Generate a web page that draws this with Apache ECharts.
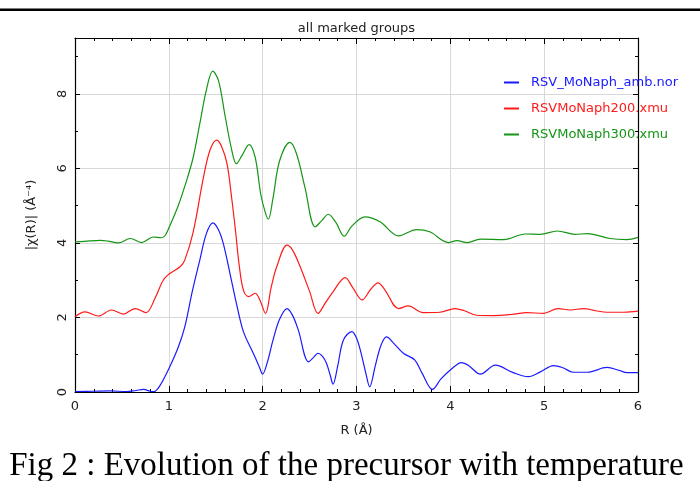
<!DOCTYPE html>
<html>
<head>
<meta charset="utf-8">
<script src="https://cdn.jsdelivr.net/npm/echarts@6/dist/echarts.min.js"></script>
<style>
html,body{margin:0;padding:0;background:#fff;}
#c{width:700px;height:481px;}
</style>
</head>
<body>
<div id="c"></div>
<script>
// ---- data ----
var seriesNames = ['RSV_MoNaph_amb.nor', 'RSVMoNaph200.xmu', 'RSVMoNaph300.xmu'];
var xTicks = [0, 1, 2, 3, 4, 5, 6];
var yTicks = [0, 2, 4, 6, 8];

var rBlue = [0,0.2,0.37,0.55,0.65,0.73,0.8,0.84,0.9,1.01,1.1,1.17,1.25,1.33,1.40,1.47,1.53,1.58,1.65,1.72,1.795,1.90,1.96,2.0,2.05,2.11,2.18,2.26,2.32,2.38,2.49,2.55,2.59,2.64,2.68,2.72,2.75,2.8,2.86,2.95,3.0,3.04,3.1,3.14,3.2,3.26,3.32,3.4,3.5,3.62,3.7,3.81,3.9,4.0,4.12,4.2,4.32,4.48,4.67,4.83,4.96,5.10,5.2,5.31,5.46,5.67,5.8,5.88,6.0];
var vBlue = [0.01,0.02,0.03,0.01,0.04,0.07,0.02,0.01,0.15,0.68,1.2,1.75,2.7,3.54,4.25,4.54,4.35,3.99,3.2,2.38,1.62,1.04,0.7,0.48,0.8,1.39,1.95,2.24,2.05,1.66,0.81,0.95,1.04,0.95,0.77,0.45,0.21,0.7,1.39,1.62,1.45,1.13,0.5,0.14,0.7,1.25,1.48,1.3,1.04,0.86,0.5,0.07,0.35,0.59,0.79,0.7,0.48,0.72,0.52,0.41,0.54,0.71,0.65,0.53,0.53,0.66,0.58,0.52,0.52];

var rRed = [0,0.107,0.25,0.39,0.515,0.64,0.757,0.85,0.94,1.01,1.12,1.17,1.26,1.37,1.44,1.51,1.56,1.62,1.67,1.71,1.75,1.795,1.85,1.92,1.97,2.03,2.09,2.15,2.26,2.32,2.40,2.5,2.59,2.67,2.75,2.88,2.96,3.06,3.15,3.23,3.3,3.45,3.55,3.71,3.89,4.05,4.15,4.28,4.46,4.65,4.82,4.99,5.15,5.28,5.42,5.55,5.67,5.85,6.0];
var vRed = [2.02,2.15,2.04,2.2,2.09,2.24,2.13,2.5,3.0,3.18,3.36,3.54,4.3,5.77,6.5,6.76,6.6,6.13,5.2,4.34,3.4,2.73,2.56,2.65,2.47,2.11,2.8,3.36,3.94,3.8,3.36,2.7,2.11,2.4,2.69,3.07,2.8,2.47,2.75,2.93,2.75,2.24,2.31,2.13,2.14,2.24,2.18,2.06,2.05,2.08,2.13,2.11,2.24,2.2,2.24,2.18,2.14,2.14,2.17];

var rGreen = [0,0.1,0.27,0.35,0.46,0.59,0.71,0.835,0.92,0.96,1.0,1.1,1.19,1.26,1.33,1.40,1.468,1.53,1.6,1.67,1.72,1.78,1.855,1.92,1.98,2.03,2.06,2.11,2.18,2.29,2.36,2.45,2.56,2.63,2.70,2.78,2.87,2.95,3.09,3.25,3.45,3.64,3.78,3.98,4.07,4.18,4.32,4.57,4.80,4.96,5.14,5.33,5.46,5.70,5.88,6.0];
var vGreen = [4.03,4.04,4.07,4.05,4.0,4.12,4.01,4.16,4.14,4.2,4.4,5.0,5.68,6.3,7.2,8.1,8.61,8.35,7.4,6.5,6.13,6.35,6.64,6.3,5.3,4.8,4.64,5.2,6.2,6.70,6.4,5.5,4.43,4.6,4.77,4.55,4.18,4.45,4.70,4.57,4.19,4.36,4.30,4.01,4.06,4.01,4.10,4.09,4.24,4.23,4.32,4.23,4.25,4.12,4.09,4.15];

var colors = ['#1a1aff', '#ff1a1a', '#159515'];

function pairs(xs, ys) { return xs.map(function (x, i) { return [x, ys[i]]; }); }

var chart = echarts.init(document.getElementById('c'), null, {renderer: 'canvas'});
var font = 'DejaVu Sans';

function xAx(pos, labels) {
  return {
    type: 'value', position: pos, min: 0, max: 6, interval: 1,
    axisLine: {show: true, onZero: false, lineStyle: {color: '#000', width: 1.2}},
    axisTick: {show: true, inside: true, length: 6, lineStyle: {color: '#000'}},
    minorTick: {show: true, splitNumber: 5, length: 3, lineStyle: {color: '#000'}},
    axisLabel: {show: labels, margin: 8, color: '#222', fontFamily: font, fontSize: 13,
      customValues: xTicks},
    splitLine: {show: labels, lineStyle: {color: '#d8d8d8', width: 1}},
    name: labels ? 'R (Å)' : '', nameLocation: 'middle', nameGap: 32,
    nameTextStyle: {color: '#222', fontFamily: font, fontSize: 13}
  };
}
function yAx(pos, labels, interval, tickLen, split, line) {
  var ax = {
    type: 'value', position: pos, min: 0, max: 9.5, interval: interval,
    axisLine: {show: line, onZero: false, lineStyle: {color: '#000', width: 1.2}},
    axisTick: {show: true, inside: true, length: tickLen, lineStyle: {color: '#000'}},
    axisLabel: {show: labels, rotate: 90, margin: 6, color: '#222', fontFamily: font, fontSize: 13},
    splitLine: {show: split, lineStyle: {color: '#d8d8d8', width: 1}},
    name: labels ? '|χ(R)| (Å⁻⁴)' : '', nameLocation: 'middle', nameGap: 37,
    nameTextStyle: {color: '#222', fontFamily: font, fontSize: 13}
  };
  if (labels) { ax.axisLabel.customValues = yTicks; }
  return ax;
}

var option = {
  backgroundColor: '#fff',
  animation: false,
  grid: {left: 75, right: 62, top: 38, bottom: 89, containLabel: false},
  xAxis: [xAx('bottom', true), xAx('top', false)],
  yAxis: [
    yAx('left', true, 2, 5, true, true),
    yAx('left', false, 1, 3, false, false),
    yAx('right', false, 2, 5, false, true),
    yAx('right', false, 1, 3, false, false)
  ],
  legend: {
    orient: 'vertical', left: 499, top: 71, itemWidth: 15, itemHeight: 2, itemGap: 13,
    icon: 'rect',
    textStyle: {fontFamily: font, fontSize: 13, padding: [0, 0, 0, 7]},
    data: seriesNames.map(function (n, i) {
      return {name: n, textStyle: {color: colors[i]}};
    })
  },
  graphic: [
    {type: 'rect', shape: {x: 0, y: 8.5, width: 700, height: 2.5}, style: {fill: '#000'}},
    {type: 'text', x: 356.5, y: 29, style: {text: 'all marked groups', font: '13px "DejaVu Sans"',
      fill: '#222', textAlign: 'center', textVerticalAlign: 'middle'}},
    {type: 'text', x: 346.5, y: 466, style: {text: 'Fig 2 : Evolution of the precursor with temperature',
      font: '33px "Liberation Serif"', fill: '#000', textAlign: 'center', textVerticalAlign: 'middle'}}
  ],
  series: [
    {name: seriesNames[0], type: 'line', data: pairs(rBlue, vBlue), showSymbol: false, smooth: 0.35,
      lineStyle: {color: colors[0], width: 1.2}, itemStyle: {color: colors[0]}},
    {name: seriesNames[1], type: 'line', data: pairs(rRed, vRed), showSymbol: false, smooth: 0.35,
      lineStyle: {color: colors[1], width: 1.2}, itemStyle: {color: colors[1]}},
    {name: seriesNames[2], type: 'line', data: pairs(rGreen, vGreen), showSymbol: false, smooth: 0.35,
      lineStyle: {color: colors[2], width: 1.2}, itemStyle: {color: colors[2]}}
  ]
};
chart.setOption(option);
</script>
</body>
</html>
